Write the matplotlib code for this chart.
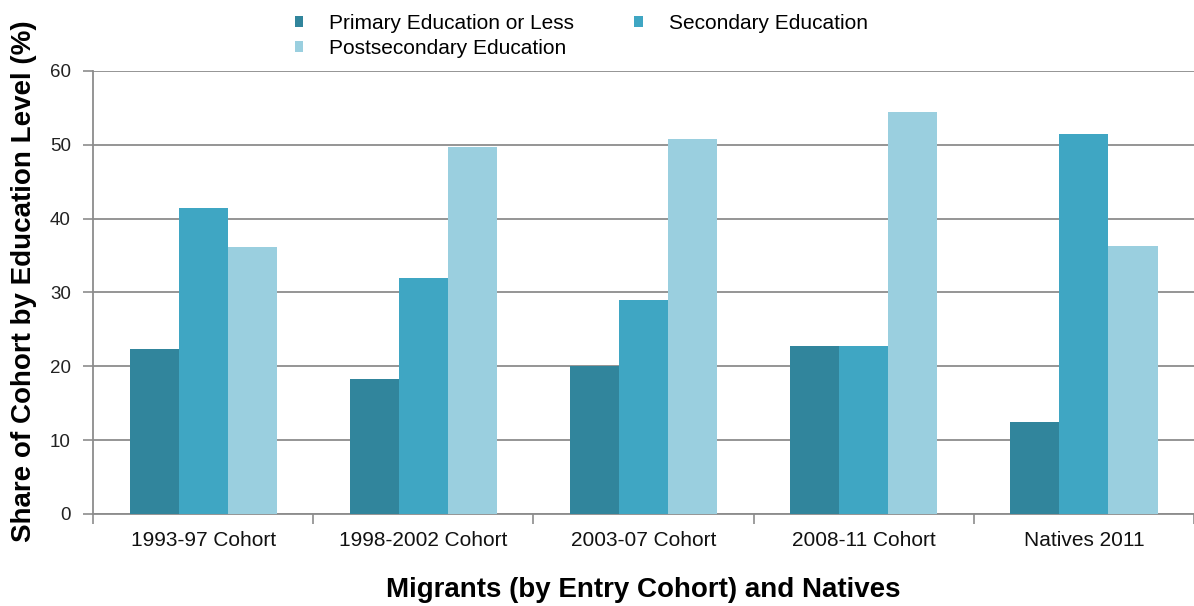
import numpy as np
import matplotlib.pyplot as plt
from matplotlib.patches import Patch

plt.rcParams['font.family'] = ['Liberation Sans', 'DejaVu Sans']

# Data
groups = ['1993-97 Cohort', '1998-2002 Cohort', '2003-07 Cohort', '2008-11 Cohort', 'Natives 2011']
primary = [22.4, 18.3, 20.0, 22.8, 12.4]
secondary = [41.4, 31.9, 29.0, 22.8, 51.4]
postsecondary = [36.2, 49.7, 50.8, 54.5, 36.3]

series = ['Primary Education or Less', 'Secondary Education', 'Postsecondary Education']
colors = ['#31859c', '#3fa6c3', '#9acfdf']

fig = plt.figure(figsize=(11.94, 6.06), dpi=100)
ax = fig.add_axes([0.078, 0.152, 0.922, 0.731])

x = np.arange(len(groups))
w = 0.223
for i, (vals, c) in enumerate(zip([primary, secondary, postsecondary], colors)):
    ax.bar(x + (i - 1) * w, vals, width=w, color=c, linewidth=0, zorder=3)

ax.set_xlim(-0.5, len(groups) - 0.5)
ax.set_ylim(0, 60)
ax.set_yticks(range(0, 61, 10))
ax.yaxis.grid(True, color='#8c8c8c', linewidth=1.3, zorder=0)

# category boundary ticks as major, labels as minor
ax.set_xticks(np.arange(-0.5, len(groups), 1.0))
ax.set_xticklabels([])
ax.set_xticks(x, minor=True)
ax.set_xticklabels(groups, minor=True, fontsize=15, color='#111111')
ax.tick_params(axis='x', which='major', length=7, width=1.2, color='#8c8c8c')
ax.tick_params(axis='x', which='minor', length=0, pad=12)
ax.tick_params(axis='y', length=7, width=1.2, color='#8c8c8c', labelsize=13.5,
               labelcolor='#222222', pad=9)

for s in ['top', 'right']:
    ax.spines[s].set_visible(False)
for s in ['left', 'bottom']:
    ax.spines[s].set_color('#8c8c8c')
    ax.spines[s].set_linewidth(1.3)

ax.set_ylabel('Share of Cohort by Education Level (%)', fontsize=20, fontweight='bold')
ax.yaxis.set_label_coords(-0.051, 0.526)
ax.set_xlabel('Migrants (by Entry Cohort) and Natives', fontsize=20, fontweight='bold', labelpad=20)

handles = [Patch(facecolor=c, label=s) for s, c in zip(series, colors)]
order = [0, 2, 1]
fig.legend([handles[i] for i in order], [series[i] for i in order],
           ncol=2, loc='upper left', bbox_to_anchor=(0.231, 1.008), frameon=False,
           fontsize=15, handlelength=0.4, handleheight=0.4, handletextpad=1.25,
           columnspacing=2.9, labelspacing=0.3)

fig.savefig('out.png', dpi=100)
